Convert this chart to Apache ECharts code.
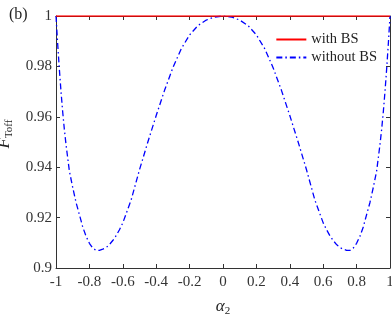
<!DOCTYPE html>
<html><head><meta charset="utf-8">
<script src="https://cdn.jsdelivr.net/npm/echarts@6/dist/echarts.min.js"></script>
<style>html,body{margin:0;padding:0;background:#fff}#c{width:392px;height:315px}</style>
</head><body><div id="c"></div>
<script>
var alphaX = [-1, -0.99, -0.98, -0.97, -0.96, -0.95, -0.94, -0.92, -0.9, -0.88, -0.86, -0.84, -0.82, -0.8, -0.78, -0.76, -0.75, -0.74, -0.72, -0.7, -0.68, -0.66, -0.64, -0.62, -0.6, -0.55, -0.5, -0.45, -0.4, -0.35, -0.3, -0.25, -0.2, -0.15, -0.1, -0.05, 0,
  0.05, 0.1, 0.15, 0.2, 0.25, 0.3, 0.35, 0.4, 0.45, 0.5, 0.55, 0.6, 0.62, 0.64, 0.66, 0.68, 0.7, 0.72, 0.74, 0.75, 0.76, 0.78, 0.8, 0.82, 0.84, 0.86, 0.88, 0.9, 0.92, 0.94, 0.95, 0.96, 0.97, 0.98, 0.99, 1];
var withoutBS = [1.000, 0.989, 0.979, 0.970, 0.962, 0.955, 0.949, 0.9385, 0.932, 0.926, 0.9212, 0.9163, 0.9126, 0.9098, 0.9079, 0.9070, 0.9069, 0.9070, 0.9075, 0.9081, 0.9093, 0.9109, 0.9128, 0.9152, 0.9179, 0.9270, 0.9390, 0.9500, 0.9605, 0.9705, 0.9795, 0.9870, 0.9925, 0.9962, 0.9984, 0.9996, 1.000,
  0.9996, 0.9984, 0.9962, 0.9925, 0.9870, 0.9795, 0.9705, 0.9605, 0.9500, 0.9390, 0.9270, 0.9179, 0.9152, 0.9128, 0.9109, 0.9093, 0.9081, 0.9075, 0.9070, 0.9069, 0.9070, 0.9079, 0.9098, 0.9126, 0.9163, 0.9212, 0.926, 0.932, 0.9385, 0.949, 0.955, 0.962, 0.970, 0.979, 0.989, 1.000];
var withBSX = [-1, 1];
var withBS = [1, 1];
var xTicks = [-1, -0.8, -0.6, -0.4, -0.2, 0, 0.2, 0.4, 0.6, 0.8, 1];
var yTicks = [0.9, 0.92, 0.94, 0.96, 0.98, 1];

var FONT = '"Liberation Serif","DejaVu Serif",serif';
var AX = '#333';
function pairs(xs, ys){ return xs.map(function(x,i){ return [x, ys[i]]; }); }
function fmtY(v){ var r = Math.round(v*100)/100; return yTicks.some(function(t){return Math.abs(t-r)<1e-9;}) ? String(r) : ''; }
function fmtX(v){ var r = Math.round(v*10)/10; return xTicks.some(function(t){return Math.abs(t-r)<1e-9;}) ? String(r) : ''; }

var chart = echarts.init(document.getElementById('c'), null, {renderer:'canvas'});
var baseX = {type:'value', min:-1, max:1, interval:0.2,
  axisLine:{show:true, onZero:false, lineStyle:{color:AX, width:1}},
  axisTick:{show:true, inside:true, length:4, lineStyle:{color:AX}},
  splitLine:{show:false}};
var baseY = {type:'value', min:0.9, max:1, interval:0.02,
  axisLine:{show:true, onZero:false, lineStyle:{color:AX, width:1}},
  axisTick:{show:true, inside:true, length:4, lineStyle:{color:AX}},
  splitLine:{show:false}};
chart.setOption({
  animation:false,
  grid:{left:56, right:2, top:16, bottom:47, containLabel:false, outerBoundsMode:'none'},
  title:{text:'(b)', left:4, top:2, textStyle:{fontFamily:FONT, fontSize:16, fontWeight:'normal', color:'#222'}},
  legend:{right:10, top:27, orient:'vertical', itemWidth:30, itemHeight:14, itemGap:3,
    itemStyle:{opacity:0},
    textStyle:{fontFamily:FONT, fontSize:14.5, color:'#222'},
    data:[{name:'with BS'},{name:'without BS'}]},
  xAxis:[Object.assign({}, baseX, {position:'bottom',
      axisLabel:{show:true, margin:7, fontFamily:FONT, fontSize:15, color:'#333', formatter:fmtX},
      name:'{a|α}{s|2}', nameLocation:'middle', nameGap:28,
      nameTextStyle:{rich:{a:{fontFamily:FONT, fontSize:17, fontStyle:'italic', color:'#222'}, s:{fontFamily:FONT, fontSize:11, color:'#222', padding:[10,0,0,0]}}}}),
    Object.assign({}, baseX, {position:'top', axisLabel:{show:false}})],
  yAxis:[Object.assign({}, baseY, {position:'left',
      axisLabel:{show:true, margin:4, fontFamily:FONT, fontSize:15, color:'#333', formatter:fmtY},
      name:'{f|F}{s|Toff}', nameLocation:'middle', nameGap:40, nameRotate:90,
      nameTextStyle:{padding:[0,0,0,16], rich:{f:{fontFamily:FONT, fontSize:17, fontStyle:'italic', color:'#222'}, s:{fontFamily:FONT, fontSize:11, color:'#222', padding:[10,0,0,0]}}}}),
    Object.assign({}, baseY, {position:'right', axisLabel:{show:false}})],
  series:[
    {name:'with BS', type:'line', data:pairs(withBSX, withBS), symbol:'none', z:5,
      itemStyle:{color:'#ff0000'}, lineStyle:{color:'#ff0000', width:1.5}},
    {name:'without BS', type:'line', data:pairs(alphaX, withoutBS), symbol:'none', smooth:false, z:4,
      itemStyle:{color:'#0000ff'}, lineStyle:{color:'#0000ff', width:1.3, type:[6,3,1.5,3]}}
  ]
});
</script></body></html>
